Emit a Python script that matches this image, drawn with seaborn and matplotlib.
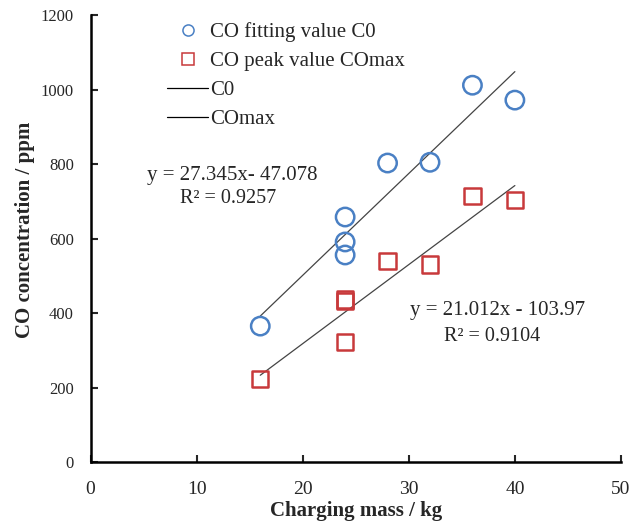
import matplotlib
matplotlib.use("Agg")
import matplotlib.pyplot as plt
import seaborn as sns
import pandas as pd
from matplotlib.lines import Line2D

sns.set_style("ticks")
plt.rcParams['font.family'] = ['Liberation Serif', 'DejaVu Serif']

c0_mass = [16, 24, 24, 24, 28, 32, 36, 40]
c0_vals = [365, 658, 591, 556, 803, 805, 1012, 972]
cmax_mass = [16, 24, 24, 24, 28, 32, 36, 40]
cmax_vals = [223, 437, 432, 322, 540, 531, 714, 703]

eq_c0 = "y = 27.345x- 47.078"
r2_c0 = "R² = 0.9257"
eq_cmax = "y = 21.012x - 103.97"
r2_cmax = "R² = 0.9104"

blue = "#4a80c4"
red = "#c8393b"

df0 = pd.DataFrame({"mass": c0_mass, "val": c0_vals})
df1 = pd.DataFrame({"mass": cmax_mass, "val": cmax_vals})

fig = plt.figure(figsize=(6.33, 5.25), dpi=100)
ax = fig.add_axes([0.143, 0.12, 0.838, 0.851])

sns.scatterplot(data=df0, x="mass", y="val", ax=ax, marker="o", s=175,
                facecolor="none", edgecolor=blue, linewidth=1.8, zorder=3)
sns.scatterplot(data=df1, x="mass", y="val", ax=ax, marker="s", s=140,
                facecolor="none", edgecolor=red, linewidth=1.8, zorder=3)
sns.regplot(data=df0, x="mass", y="val", ax=ax, scatter=False, ci=None,
            line_kws=dict(color="#444444", lw=0.9))
sns.regplot(data=df1, x="mass", y="val", ax=ax, scatter=False, ci=None,
            line_kws=dict(color="#444444", lw=0.9))

ax.set_xlim(0, 50)
ax.set_ylim(0, 1200)
ax.set_xticks([0, 10, 20, 30, 40, 50])
ax.set_yticks(range(0, 1201, 200))
ax.tick_params(axis='x', direction='in', length=5, width=1.5, labelsize=14, pad=14)
ax.tick_params(axis='y', direction='in', length=5, width=1.5, labelsize=12, pad=12)
for s in ["left", "bottom"]:
    ax.spines[s].set_linewidth(1.8)
    ax.spines[s].set_color("black")
sns.despine(ax=ax)

ax.set_xlabel("Charging mass / kg", fontsize=15, fontweight="bold", labelpad=2)
ax.set_ylabel("CO concentration / ppm", fontsize=15, fontweight="bold")
ax.yaxis.set_label_coords(-0.105, 0.52)

ax.text(13.4, 770, eq_c0, ha="center", va="center", fontsize=15)
ax.text(12.95, 709, r2_c0, ha="center", va="center", fontsize=14.5)
ax.text(38.4, 408, eq_cmax, ha="center", va="center", fontsize=15)
ax.text(37.9, 336, r2_cmax, ha="center", va="center", fontsize=14.5)

handles = [
    Line2D([], [], marker="o", ls="none", mfc="none", mec=blue, ms=8, mew=1.1),
    Line2D([], [], marker="s", ls="none", mfc="none", mec=red, ms=8, mew=1.1),
    Line2D([], [], color="black", lw=0.9),
    Line2D([], [], color="black", lw=0.9),
]
labels = ["CO fitting value C0", "CO peak value COmax", "C0", "COmax"]
ax.legend(handles, labels, loc="upper left", bbox_to_anchor=(0.12, 1.012),
          frameon=False, fontsize=15, handlelength=2.0, handletextpad=0.1,
          labelspacing=0.45, borderaxespad=0.2)

fig.savefig("out.png", dpi=100)
